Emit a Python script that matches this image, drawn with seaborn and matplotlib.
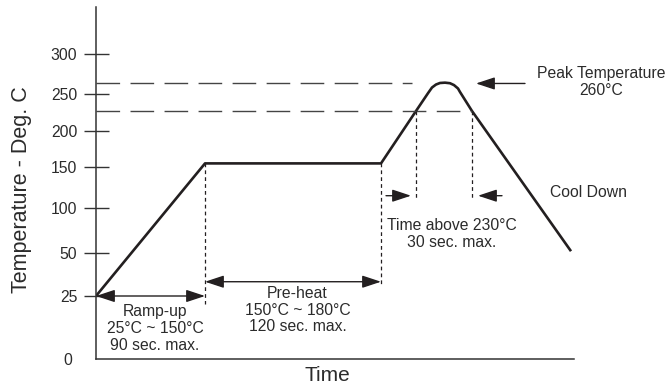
import numpy as np
import pandas as pd
import matplotlib
matplotlib.use("Agg")
import matplotlib.pyplot as plt
import seaborn as sns

# ---------------- data ----------------
# schematic (non-linear) temperature axis: tick values and their relative heights
tick_temps = [0, 25, 50, 100, 150, 200, 250, 300]
tick_height = [0, 63, 106, 151, 192, 228, 265, 305.5]
tick_labels = ["0", "25", "50", "100", "150", "200", "250", "300"]

# reflow profile (time in arbitrary units, temperature in deg C as drawn)
profile_time = [0, 109, 285, 320, 332, 336, 340, 344, 349, 354, 358, 362, 364, 376, 475]
profile_temp = [25, 155, 155, 227, 251, 258, 261.7, 263.6, 264, 263.3, 261, 256.8, 252.5, 227, 52]

peak_level = 263
above_level = 227

# vertical marker lines: (time, top temp, bottom temp)
vmarks_time = [109, 285, 320, 376]
vmarks_top = [155, 155, 227, 227]
vmarks_bottom = [22, 31, 112, 112]

# ---------------- style ----------------
sns.set_theme(style="white")
plt.rcParams["font.family"] = ["Liberation Sans", "DejaVu Sans"]
INK = "#231f20"
TXT = "#2b2b2b"

ext_t = tick_temps + [400]
ext_h = tick_height + [305.5 + 100 * 0.81]


def fwd(v):
    return np.interp(v, ext_t, ext_h)


def inv(v):
    return np.interp(v, ext_h, ext_t)


fig = plt.figure(figsize=(6.65, 3.87), dpi=100)
ax = fig.add_axes([96 / 665, 28 / 387, 478 / 665, 352 / 387])
ax.set_yscale("function", functions=(fwd, inv))
ax.set_xlim(0, 478)
ax.set_ylim(0, inv(352))

df = pd.DataFrame({"time": profile_time, "temp": profile_temp})
sns.lineplot(data=df, x="time", y="temp", sort=False, color=INK, linewidth=1.9,
             ax=ax, solid_joinstyle="round", solid_capstyle="butt")

# horizontal dashed reference lines
ax.plot([0, 316], [peak_level, peak_level], color="#444444", lw=1.0,
        linestyle=(0, (17, 7.5)))
ax.plot([0, 376], [above_level, above_level], color="#444444", lw=1.0,
        linestyle=(0, (17, 7.5)))

# vertical short-dashed lines
for t, top, bot in zip(vmarks_time, vmarks_top, vmarks_bottom):
    ax.plot([t, t], [top, bot], color=INK, lw=0.9, linestyle=(0, (3, 2.5)))


def arrow(x0, x1, y, style):
    ax.annotate("", xy=(x1, y), xytext=(x0, y),
                arrowprops=dict(arrowstyle=style + ",head_length=1.15,head_width=0.38",
                                color=INK, lw=1.0, shrinkA=0, shrinkB=0,
                                mutation_scale=10))


arrow(0, 109, 25, "<|-|>")
arrow(109, 285, 33.3, "<|-|>")
arrow(290, 315, 115, "-|>")
arrow(406, 382, 115, "-|>")
arrow(429, 380, peak_level, "-|>")

fs = 11.3
ax.text(59, 12.1, "Ramp-up\n25°C ~ 150°C\n90 sec. max.", ha="center", va="center",
        fontsize=fs, color=TXT, linespacing=1.15)
ax.text(201.5, 19.4, "Pre-heat\n150°C ~ 180°C\n120 sec. max.", ha="center", va="center",
        fontsize=fs, color=TXT, linespacing=1.15)
ax.text(356, 71, "Time above 230°C\n30 sec. max.", ha="center", va="center",
        fontsize=fs, color=TXT, linespacing=1.15)
ax.text(492, 119.5, "Cool Down", ha="center", va="center",
        fontsize=fs, color=TXT, clip_on=False)
ax.text(505, 265, "Peak Temperature\n260°C", ha="center", va="center",
        fontsize=fs, color=TXT, linespacing=1.15, clip_on=False)

# axes / spines
for s in ["top", "right"]:
    ax.spines[s].set_visible(False)
for s in ["left", "bottom"]:
    ax.spines[s].set_color("#333333")
    ax.spines[s].set_linewidth(1.1)

ax.set_xticks([])
ax.set_yticks(tick_temps[1:])
ax.set_yticklabels(tick_labels[1:])
ax.set_yticks([0], minor=True)
ax.set_yticklabels(["0"], minor=True)
ax.tick_params(axis="y", which="major", direction="inout", length=18, width=1.0,
               color="#333333", pad=4.5, labelsize=11.3, labelcolor=TXT, left=True)
ax.tick_params(axis="y", which="minor", length=0, pad=17, labelsize=11.3,
               labelcolor=TXT, left=True)

ax.set_ylabel("Temperature - Deg. C", fontsize=15.5, color=TXT)
ax.yaxis.set_label_coords(-0.134, 0.48)
ax.set_xlabel("Time", fontsize=15, color=TXT)
ax.xaxis.set_label_coords((327 - 96) / 478, -0.02)

fig.savefig("out.png", dpi=100)
